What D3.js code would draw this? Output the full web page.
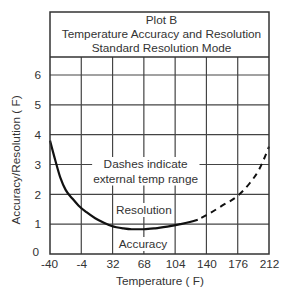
<!DOCTYPE html>
<html>
<head>
<meta charset="utf-8">
<script src="https://cdn.jsdelivr.net/npm/d3@7"></script>
<style>
  body { margin: 0; background: #fff; }
  svg text { font-family: "Liberation Sans", Arial, sans-serif; fill: #333; }
</style>
</head>
<body>
<svg id="chart"></svg>
<script>
// data
const tempSolid = [-40, -34, -28, -22, -14, -7, 2, 12, 22, 31, 44, 54, 68, 81, 95, 110, 122, 130];
const accSolid  = [3.8, 3.15, 2.55, 2.15, 1.85, 1.62, 1.4, 1.2, 1.05, 0.94, 0.86, 0.83, 0.83, 0.86, 0.92, 1.0, 1.08, 1.15];
const tempDash = [130, 140, 158, 176, 190, 200, 212];
const accDash  = [1.15, 1.3, 1.62, 1.95, 2.38, 2.8, 3.6];
const xTicks = [-40, -4, 32, 68, 104, 140, 176, 212];
const yTicks = [0, 1, 2, 3, 4, 5, 6];
const titleLines = ["Plot B", "Temperature Accuracy and Resolution", "Standard Resolution Mode"];

const width = 283, height = 289;
const margin = { top: 57, right: 14, bottom: 35, left: 50 };
const titleTop = 12;
const fs = 11.8;

const svg = d3.select("#chart")
  .attr("width", width)
  .attr("height", height);

const x = d3.scaleLinear().domain([-40, 212]).range([margin.left, width - margin.right]);
const y = d3.scaleLinear().domain([0, 6]).range([height - margin.bottom, 75]);

// grid
svg.append("g")
  .selectAll("line.v")
  .data(xTicks.slice(1, -1))
  .enter().append("line")
  .attr("x1", d => x(d)).attr("x2", d => x(d))
  .attr("y1", margin.top).attr("y2", y(0))
  .attr("stroke", "#444").attr("stroke-width", 1.2);

svg.append("g")
  .selectAll("line.h")
  .data(yTicks.slice(1))
  .enter().append("line")
  .attr("x1", x(-40)).attr("x2", x(212))
  .attr("y1", d => y(d)).attr("y2", d => y(d))
  .attr("stroke", "#444").attr("stroke-width", 1.2);

// annotation labels with white backing
function label(lines, cx, cy, lh) {
  const g = svg.append("g");
  const t = g.append("text")
    .attr("text-anchor", "middle")
    .attr("font-size", fs);
  lines.forEach((s, i) => {
    t.append("tspan").attr("x", cx).attr("y", cy + i * lh).text(s);
  });
  const b = t.node().getBBox();
  g.insert("rect", "text")
    .attr("x", b.x - 1).attr("y", b.y)
    .attr("width", b.width + 2).attr("height", b.height)
    .attr("fill", "#fff");
}
label(["Dashes indicate", "external temp range"], x(70), 168, 14.5);
label(["Resolution"], x(68), 214, 0);
label(["Accuracy"], x(67), 248, 0);

// curves
const line = d3.line()
  .x(d => x(d[0]))
  .y(d => y(d[1]))
  .curve(d3.curveMonotoneX);

svg.append("path")
  .datum(d3.zip(tempSolid, accSolid))
  .attr("d", line)
  .attr("fill", "none")
  .attr("stroke", "#111")
  .attr("stroke-width", 2.2);

svg.append("path")
  .datum(d3.zip(tempDash, accDash))
  .attr("d", line)
  .attr("fill", "none")
  .attr("stroke", "#111")
  .attr("stroke-width", 2)
  .attr("stroke-dasharray", "6,5")
  .attr("stroke-dashoffset", -4);

// frame and title box
svg.append("rect")
  .attr("x", x(-40)).attr("y", titleTop)
  .attr("width", x(212) - x(-40)).attr("height", y(0) - titleTop)
  .attr("fill", "none").attr("stroke", "#333").attr("stroke-width", 1.5);

svg.append("line")
  .attr("x1", x(-40)).attr("x2", x(212))
  .attr("y1", margin.top).attr("y2", margin.top)
  .attr("stroke", "#333").attr("stroke-width", 1.5);

svg.append("text")
  .attr("text-anchor", "middle")
  .attr("font-size", fs)
  .selectAll("tspan")
  .data(titleLines)
  .enter().append("tspan")
  .attr("x", (x(-40) + x(212)) / 2 + 2)
  .attr("y", (d, i) => 24 + i * 13.8)
  .text(d => d);

// axes
const xAxis = svg.append("g")
  .attr("transform", `translate(0,${y(0)})`)
  .call(d3.axisBottom(x).tickValues(xTicks).tickSize(0).tickPadding(5.5).tickFormat(d => String(d)));
xAxis.select(".domain").remove();
xAxis.selectAll("text")
  .attr("font-size", fs)
  .attr("fill", "#333")
  .attr("font-family", "Liberation Sans, Arial, sans-serif")
  .attr("dx", d => d === -40 ? -1 : 0);

const yAxis = svg.append("g")
  .attr("transform", `translate(${x(-40)},0)`)
  .call(d3.axisLeft(y).tickValues(yTicks).tickSize(0).tickPadding(9).tickFormat(d => String(d)));
yAxis.select(".domain").remove();
yAxis.selectAll("text")
  .attr("font-size", fs)
  .attr("fill", "#333")
  .attr("font-family", "Liberation Sans, Arial, sans-serif")
  .attr("dy", d => d === 0 ? "0.1em" : "0.32em")
  .attr("dx", d => d === 0 ? -2 : 0);

// axis titles
svg.append("text")
  .attr("text-anchor", "middle")
  .attr("font-size", fs)
  .attr("x", 160).attr("y", 285)
  .text("Temperature ( F)");

svg.append("text")
  .attr("text-anchor", "middle")
  .attr("font-size", fs)
  .attr("transform", `translate(20,${160}) rotate(-90)`)
  .text("Accuracy/Resolution ( F)");
</script>
</body>
</html>
